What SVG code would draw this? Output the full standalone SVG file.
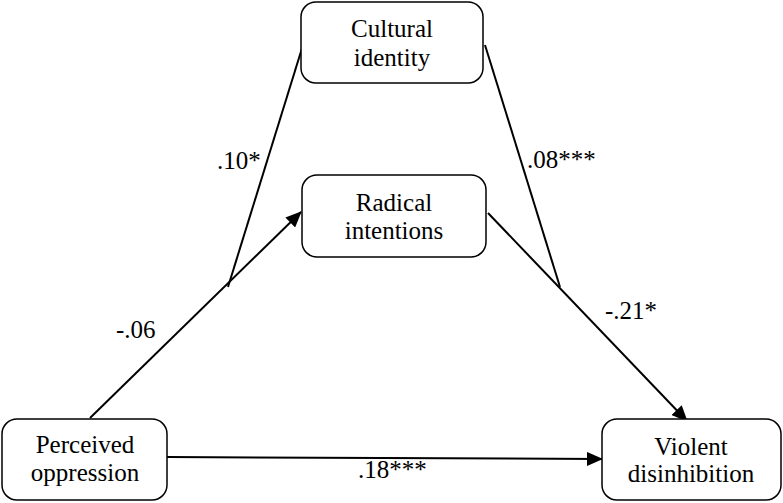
<svg xmlns="http://www.w3.org/2000/svg" width="783" height="503" viewBox="0 0 783 503">
<defs>
<marker id="arr" markerWidth="16" markerHeight="14" refX="15" refY="7" orient="auto" markerUnits="userSpaceOnUse" viewBox="0 0 16 14">
<path d="M0,0 L16,7 L0,14 z" fill="#000"/>
</marker>
</defs>
<rect width="783" height="503" fill="#fff"/>
<g id="connectors" stroke="#000" stroke-width="2" fill="none">
<line x1="90" y1="418" x2="301" y2="212" marker-end="url(#arr)"/>
<line x1="303" y1="45" x2="228" y2="287"/>
<line x1="488" y1="213" x2="687" y2="421" marker-end="url(#arr)"/>
<line x1="485" y1="45" x2="560" y2="287"/>
<line x1="167" y1="457" x2="602" y2="459" marker-end="url(#arr)"/>
</g>
<g id="labels" font-family="Liberation Serif" font-size="25" fill="#000">
<text x="217" y="169">.10*</text>
<text x="527" y="168">.08***</text>
<text x="116" y="338">-.06</text>
<text x="605" y="319">-.21*</text>
<text x="358" y="478">.18***</text>
</g>
<g id="cultural" font-family="Liberation Serif" font-size="25" text-anchor="middle">
<rect x="301" y="2" width="182" height="81" rx="15" fill="#fff" stroke="#000" stroke-width="1.5"/>
<text x="392" y="37">Cultural</text>
<text x="392" y="66">identity</text>
</g>
<g id="radical" font-family="Liberation Serif" font-size="25" text-anchor="middle">
<rect x="302" y="175" width="184" height="82" rx="15" fill="#fff" stroke="#000" stroke-width="1.5"/>
<text x="394" y="211">Radical</text>
<text x="394" y="239">intentions</text>
</g>
<g id="perceived" font-family="Liberation Serif" font-size="25" text-anchor="middle">
<rect x="2" y="419" width="165" height="81" rx="15" fill="#fff" stroke="#000" stroke-width="1.5"/>
<text x="85" y="453">Perceived</text>
<text x="85" y="481">oppression</text>
</g>
<g id="violent" font-family="Liberation Serif" font-size="25" text-anchor="middle">
<rect x="602" y="419" width="179" height="81" rx="15" fill="#fff" stroke="#000" stroke-width="1.5"/>
<text x="691" y="455">Violent</text>
<text x="691" y="482">disinhibition</text>
</g>
</svg>
